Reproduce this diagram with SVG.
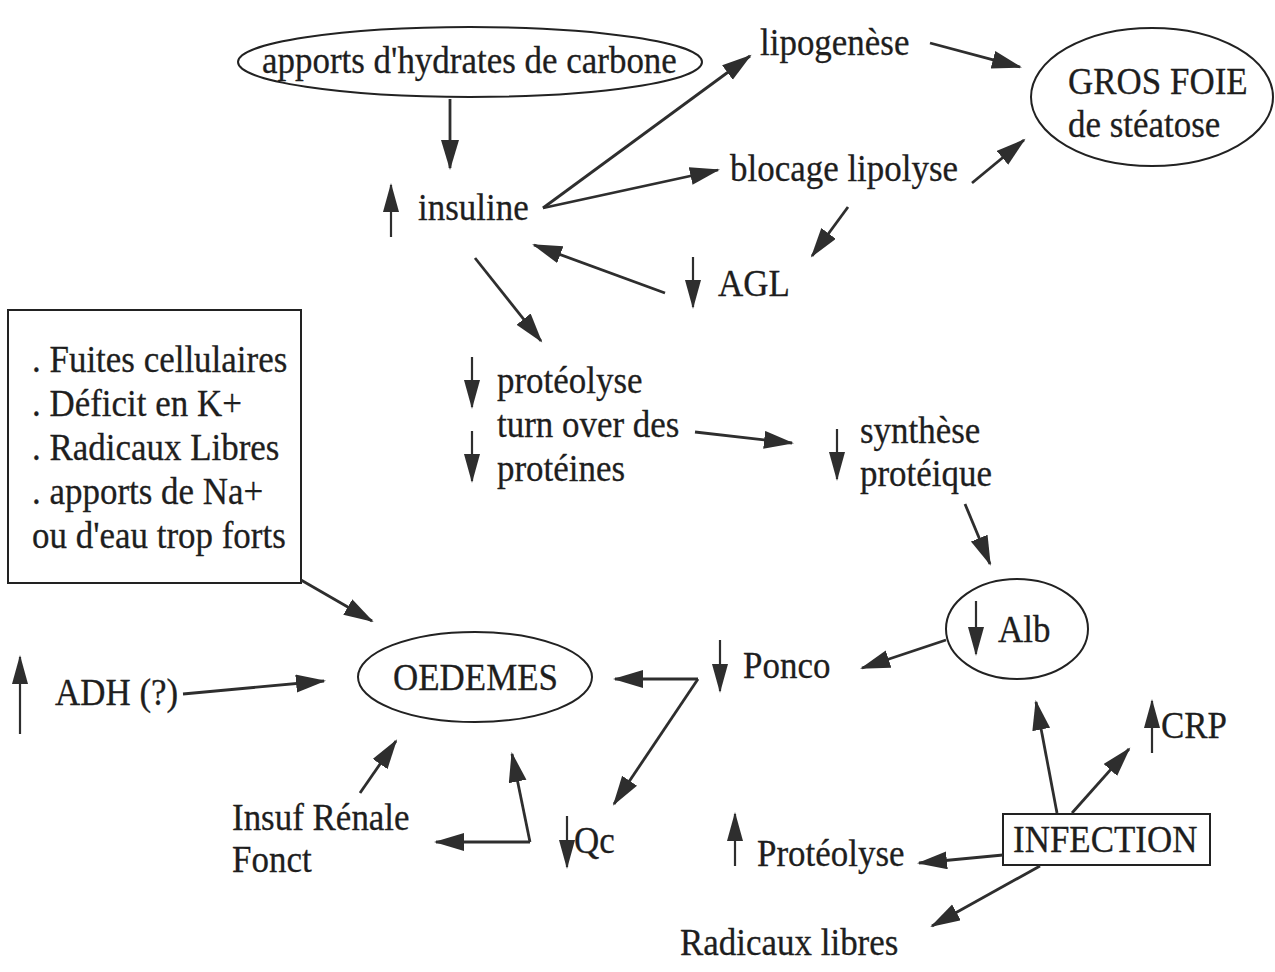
<svg xmlns="http://www.w3.org/2000/svg" width="1275" height="972" viewBox="0 0 1275 972">
<defs>
<style>
text{font-family:"Liberation Serif","Times New Roman",serif;font-size:38px;fill:#1e1e1e;stroke:#1e1e1e;stroke-width:0.3}
.sh{fill:none;stroke:#222;stroke-width:2}
.c{fill:none;stroke:#2e2e2e;stroke-width:2.8}
.s{fill:none;stroke:#2e2e2e;stroke-width:2.2}
</style>
<marker id="ah" markerUnits="userSpaceOnUse" markerWidth="32" markerHeight="20" refX="28" refY="9" orient="auto"><path d="M0,0 L30,9 L0,18 z" fill="#2e2e2e"/></marker>
<marker id="sh" markerUnits="userSpaceOnUse" markerWidth="30" markerHeight="18" refX="27" refY="8" orient="auto"><path d="M0,0 L29,8 L0,16 z" fill="#2e2e2e"/></marker>
</defs>
<rect width="1275" height="972" fill="#fff"/>

<g id="n-apports"><ellipse class="sh" cx="470" cy="62" rx="232" ry="35"/><text transform="matrix(0.92 0 0 1 262 73)">apports d'hydrates de carbone</text></g>
<g id="n-insuline"><line class="s" x1="391" y1="237" x2="391" y2="185" marker-end="url(#sh)"/><text transform="matrix(0.92 0 0 1 418 220)">insuline</text></g>
<g id="n-lipogenese"><text transform="matrix(0.92 0 0 1 760 55)">lipogenèse</text></g>
<g id="n-grosfoie"><ellipse class="sh" cx="1152" cy="97" rx="121" ry="69"/><text transform="matrix(0.92 0 0 1 1068 94)">GROS FOIE</text><text transform="matrix(0.92 0 0 1 1068 137)">de stéatose</text></g>
<g id="n-blocage"><text transform="matrix(0.92 0 0 1 730 181)">blocage lipolyse</text></g>
<g id="n-agl"><line class="s" x1="693" y1="257" x2="693" y2="307" marker-end="url(#sh)"/><text transform="matrix(0.92 0 0 1 718 296)">AGL</text></g>
<g id="n-proteolyse"><line class="s" x1="472" y1="357" x2="472" y2="407" marker-end="url(#sh)"/><text transform="matrix(0.92 0 0 1 497 393)">protéolyse</text><text transform="matrix(0.92 0 0 1 497 437)">turn over des</text><line class="s" x1="472" y1="431" x2="472" y2="481" marker-end="url(#sh)"/><text transform="matrix(0.92 0 0 1 497 481)">protéines</text></g>
<g id="n-synthese"><line class="s" x1="837" y1="429" x2="837" y2="479" marker-end="url(#sh)"/><text transform="matrix(0.92 0 0 1 860 443)">synthèse</text><text transform="matrix(0.92 0 0 1 860 486)">protéique</text></g>
<g id="n-box"><rect class="sh" x="8" y="310" width="293" height="273"/><text transform="matrix(0.92 0 0 1 32 372)">. Fuites cellulaires</text><text transform="matrix(0.92 0 0 1 32 416)">. Déficit en K+</text><text transform="matrix(0.92 0 0 1 32 460)">. Radicaux Libres</text><text transform="matrix(0.92 0 0 1 32 504)">. apports de Na+</text><text transform="matrix(0.92 0 0 1 32 548)">ou d'eau trop forts</text></g>
<g id="n-alb"><ellipse class="sh" cx="1017" cy="629" rx="71" ry="50"/><line class="s" x1="976" y1="601" x2="976" y2="654" marker-end="url(#sh)"/><text transform="matrix(0.92 0 0 1 998 642)">Alb</text></g>
<g id="n-ponco"><line class="s" x1="720" y1="640" x2="720" y2="691" marker-end="url(#sh)"/><text transform="matrix(0.92 0 0 1 743 678)">Ponco</text></g>
<g id="n-oedemes"><ellipse class="sh" cx="475" cy="677" rx="117" ry="45"/><text transform="matrix(0.92 0 0 1 393 690)">OEDEMES</text></g>
<g id="n-adh"><line class="s" x1="20" y1="734" x2="20" y2="657" marker-end="url(#sh)"/><text transform="matrix(0.92 0 0 1 55 705)">ADH (?)</text></g>
<g id="n-insuf"><text transform="matrix(0.92 0 0 1 232 830)">Insuf Rénale</text><text transform="matrix(0.92 0 0 1 232 872)">Fonct</text></g>
<g id="n-qc"><line class="s" x1="567" y1="816" x2="567" y2="867" marker-end="url(#sh)"/><text transform="matrix(0.92 0 0 1 574 853)">Qc</text></g>
<g id="n-crp"><line class="s" x1="1152" y1="753" x2="1152" y2="701" marker-end="url(#sh)"/><text transform="matrix(0.92 0 0 1 1161 738)">CRP</text></g>
<g id="n-infection"><rect class="sh" x="1003" y="814" width="207" height="51"/><text transform="matrix(0.92 0 0 1 1013 852)">INFECTION</text></g>
<g id="n-proteolyse2"><line class="s" x1="735" y1="866" x2="735" y2="814" marker-end="url(#sh)"/><text transform="matrix(0.92 0 0 1 757 866)">Protéolyse</text></g>
<g id="n-radicaux"><text transform="matrix(0.92 0 0 1 680 955)">Radicaux libres</text></g>

<g id="connectors">
<line class="c" x1="450" y1="99" x2="450" y2="168" marker-end="url(#ah)"/>
<line class="c" x1="543" y1="208" x2="750" y2="56" marker-end="url(#ah)"/>
<line class="c" x1="543" y1="208" x2="718" y2="170" marker-end="url(#ah)"/>
<line class="c" x1="930" y1="43" x2="1020" y2="67" marker-end="url(#ah)"/>
<line class="c" x1="972" y1="183" x2="1024" y2="140" marker-end="url(#ah)"/>
<line class="c" x1="848" y1="207" x2="812" y2="256" marker-end="url(#ah)"/>
<line class="c" x1="665" y1="293" x2="534" y2="245" marker-end="url(#ah)"/>
<line class="c" x1="475" y1="258" x2="541" y2="341" marker-end="url(#ah)"/>
<line class="c" x1="695" y1="432" x2="792" y2="443" marker-end="url(#ah)"/>
<line class="c" x1="965" y1="504" x2="990" y2="564" marker-end="url(#ah)"/>
<line class="c" x1="946" y1="640" x2="862" y2="668" marker-end="url(#ah)"/>
<line class="c" x1="698" y1="679" x2="615" y2="679" marker-end="url(#ah)"/>
<line class="c" x1="698" y1="679" x2="614" y2="804" marker-end="url(#ah)"/>
<line class="c" x1="301" y1="580" x2="372" y2="621" marker-end="url(#ah)"/>
<line class="c" x1="183" y1="694" x2="324" y2="681" marker-end="url(#ah)"/>
<line class="c" x1="360" y1="793" x2="396" y2="741" marker-end="url(#ah)"/>
<line class="c" x1="530" y1="842" x2="436" y2="842" marker-end="url(#ah)"/>
<line class="c" x1="530" y1="842" x2="512" y2="754" marker-end="url(#ah)"/>
<line class="c" x1="1057" y1="813" x2="1036" y2="702" marker-end="url(#ah)"/>
<line class="c" x1="1072" y1="813" x2="1129" y2="749" marker-end="url(#ah)"/>
<line class="c" x1="1003" y1="855" x2="919" y2="863" marker-end="url(#ah)"/>
<line class="c" x1="1040" y1="866" x2="932" y2="926" marker-end="url(#ah)"/>
</g>
</svg>
